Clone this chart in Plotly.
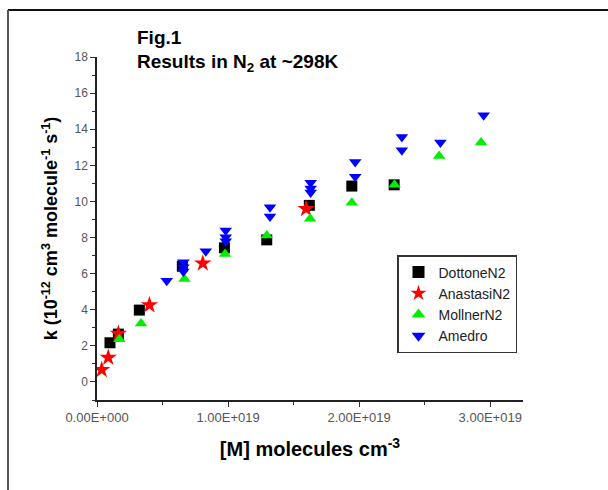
import plotly.graph_objects as go

# ---- data (x in molecules cm^-3, y in 1e-12 cm3 molecule-1 s-1) ----
dottone_x = [0.099e19, 0.163e19, 0.323e19, 0.651e19, 0.972e19, 1.295e19, 1.62e19, 1.944e19, 2.267e19]
dottone_y = [2.17, 2.65, 3.98, 6.41, 7.43, 7.87, 9.78, 10.85, 10.92]

anastasi_x = [0.036e19, 0.086e19, 0.163e19, 0.40e19, 0.807e19, 1.595e19]
anastasi_y = [0.67, 1.35, 2.68, 4.26, 6.57, 9.59]

mollner_x = [0.170e19, 0.336e19, 0.667e19, 0.977e19, 1.295e19, 1.626e19, 1.944e19, 2.27e19, 2.61e19, 2.93e19]
mollner_y = [2.37, 3.24, 5.70, 7.09, 8.11, 9.04, 9.93, 10.93, 12.52, 13.26]

amedro_x = [0.532e19, 0.659e19, 0.659e19, 0.659e19, 0.83e19, 0.982e19, 0.982e19, 0.982e19,
            1.32e19, 1.32e19, 1.63e19, 1.63e19, 1.63e19, 1.97e19, 1.97e19,
            2.326e19, 2.326e19, 2.62e19, 2.95e19]
amedro_y = [5.61, 6.63, 6.35, 6.12, 7.24, 8.39, 8.02, 7.80,
            9.68, 9.17, 11.04, 10.72, 10.50, 12.18, 11.37,
            13.57, 12.83, 13.26, 14.78]

x_tickvals = [0, 1e19, 2e19, 3e19]
x_ticktext = ["0.00E+000", "1.00E+019", "2.00E+019", "3.00E+019"]
y_tickvals = [0, 2, 4, 6, 8, 10, 12, 14, 16, 18]

FONT = "Liberation Sans, Arial, sans-serif"

fig = go.Figure()
fig.add_trace(go.Scatter(x=dottone_x, y=dottone_y, mode="markers", name="DottoneN2",
                         marker=dict(symbol="square", size=11, color="black")))
fig.add_trace(go.Scatter(x=anastasi_x, y=anastasi_y, mode="markers", name="AnastasiN2",
                         marker=dict(symbol="star", size=13, color="#ff0000")))
fig.add_trace(go.Scatter(x=mollner_x, y=mollner_y, mode="markers", name="MollnerN2",
                         marker=dict(symbol="triangle-up", size=11, color="#00ee00")))
fig.add_trace(go.Scatter(x=amedro_x, y=amedro_y, mode="markers", name="Amedro",
                         marker=dict(symbol="triangle-down", size=11, color="#0000ff")))

W, H = 608, 490
L, R, T, B = 97, 85, 57, 90
pw, ph = W - L - R, H - T - B

def px(xp):
    return (xp - L) / pw

def py(yp):
    return (H - B - yp) / ph

fig.update_layout(
    width=W, height=H,
    margin=dict(l=L, r=R, t=T, b=B),
    paper_bgcolor="white", plot_bgcolor="white",
    font=dict(family=FONT, color="black"),
    showlegend=True,
    legend=dict(x=px(397), y=py(255), xanchor="left", yanchor="top",
                bgcolor="white", bordercolor="#333333", borderwidth=1.5,
                font=dict(size=14, family=FONT, color="#222222"),
                itemsizing="constant", tracegroupgap=0),
    xaxis=dict(range=[0, 3.25e19], tickvals=x_tickvals, ticktext=x_ticktext,
               showgrid=False, zeroline=False, showline=True, linecolor="#222222", linewidth=1.5,
               ticks="outside", ticklen=5, tickwidth=1.2, tickcolor="#333333",
               minor=dict(tickvals=[0.5e19, 1.5e19, 2.5e19], ticks="outside", ticklen=3, tickcolor="#333333"),
               tickfont=dict(size=13, color="#555555", family=FONT),
               title=dict(text="<b>[M] molecules cm<sup>-3</sup></b>", font=dict(size=20, family=FONT, color="black"), standoff=18)),
    yaxis=dict(range=[-1, 18], tickvals=y_tickvals,
               showgrid=False, zeroline=False, showline=True, linecolor="#222222", linewidth=1.5,
               ticks="outside", ticklen=5, tickwidth=1.2, tickcolor="#333333",
               minor=dict(dtick=1, ticks="outside", ticklen=3, tickcolor="#333333"),
               tickfont=dict(size=12, color="#555555", family=FONT),
               title=dict(text="<b>k (10<sup>-12</sup> cm<sup>3</sup> molecule<sup>-1</sup> s<sup>-1</sup>)</b>",
                          font=dict(size=18, family=FONT, color="black"), standoff=12)),
)

# title texts
fig.add_annotation(x=px(135), y=py(37), xref="paper", yref="paper", xanchor="left", yanchor="middle",
                   text="<b>Fig.1</b>", showarrow=False, font=dict(size=19, family=FONT, color="black"))
fig.add_annotation(x=px(135), y=py(63), xref="paper", yref="paper", xanchor="left", yanchor="middle",
                   text="<b>Results in N<sub>2</sub> at ~298K</b>", showarrow=False,
                   font=dict(size=19, family=FONT, color="black"))

# outer frame (top and left edges)
fig.add_shape(type="line", xref="paper", yref="paper", x0=px(8), x1=px(608), y0=py(10), y1=py(10),
              line=dict(color="#111111", width=2))
fig.add_shape(type="line", xref="paper", yref="paper", x0=px(8), x1=px(8), y0=py(10), y1=py(490),
              line=dict(color="#555555", width=2))

fig.write_html("out.html")
